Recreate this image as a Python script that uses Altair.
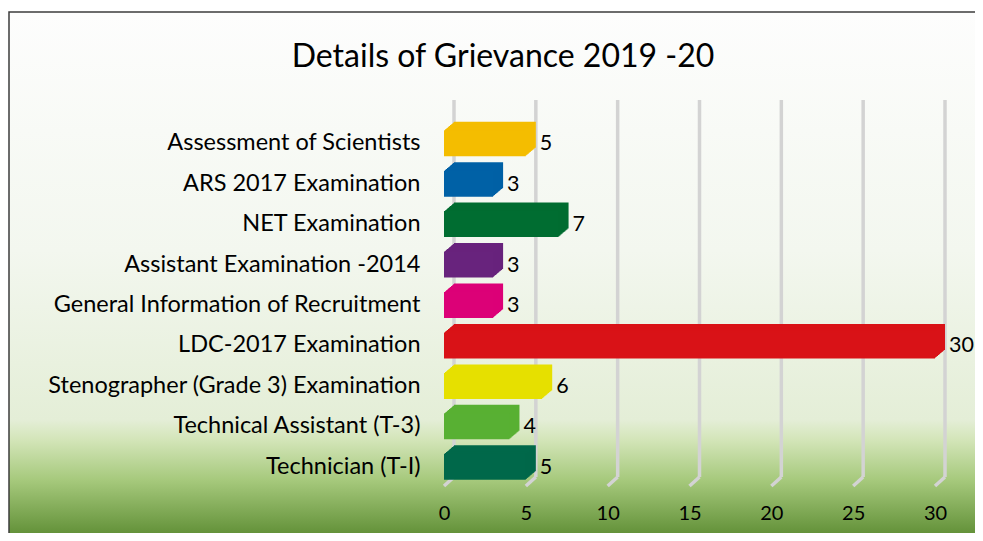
import altair as alt
import pandas as pd

categories = [
    "Assessment of Scientists",
    "ARS 2017 Examination",
    "NET Examination",
    "Assistant Examination -2014",
    "General Information of Recruitment",
    "LDC-2017 Examination",
    "Stenographer (Grade 3) Examination",
    "Technical Assistant (T-3)",
    "Technician (T-I)",
]
values = [5, 3, 7, 3, 3, 30, 6, 4, 5]
colors = ["#f4bd00", "#0061a6", "#006d31", "#68237d", "#dc0177",
          "#d91217", "#e6e000", "#58b033", "#00684a"]
ticks = [0, 5, 10, 15, 20, 25, 30]
title_text = "Details of Grievance 2019 -20"

df = pd.DataFrame({"cat": categories, "value": values, "color": colors})
tick_df = pd.DataFrame({"t": ticks})
one = pd.DataFrame({"a": [0]})

FONT = "Lato"
W, H = 491, 364
DX, DY = 10, 8.5
BAR = 26

x_scale = alt.Scale(domain=[0, 30], nice=False, zero=True)
y_scale = alt.Scale(domain=categories, paddingInner=0, paddingOuter=0)
x_axis = alt.Axis(title=None, values=ticks, labelFontSize=20, labelFont=FONT,
                  labelColor="black", ticks=False, domain=False, grid=False,
                  labelPadding=16, format="d", zindex=2, labelFlush=False)
y_axis = alt.Axis(title=None, labelFontSize=23.5, labelFont=FONT, labelColor="black",
                  labelPadding=24, ticks=False, domain=False, grid=False,
                  labelLimit=600, labelAlign="right", zindex=2)


def X(field):
    return alt.X(field, type="quantitative", scale=x_scale, axis=x_axis)


def Y(field):
    return alt.Y(field, type="nominal", scale=y_scale, axis=y_axis, sort=categories)


bg = alt.Chart(one).mark_rect(
    fill=alt.Gradient(
        gradient="linear", x1=0, x2=0, y1=0, y2=1,
        stops=[
            alt.GradientStop(offset=0.0, color="#fdfdfd"),
            alt.GradientStop(offset=0.45, color="#f3f7ef"),
            alt.GradientStop(offset=0.771, color="#e4eed7"),
            alt.GradientStop(offset=0.809, color="#d3e5b8"),
            alt.GradientStop(offset=0.885, color="#a6c97c"),
            alt.GradientStop(offset=1.0, color="#5a8a30"),
        ],
    ),
    stroke="#3c3c3c", strokeWidth=1.5,
).encode(
    x=alt.value(-435), x2=alt.value(600), y=alt.value(-111), y2=alt.value(418)
)

grid_v = alt.Chart(tick_df).mark_rule(
    color="#d3d3d3", strokeWidth=3.5, xOffset=DX
).encode(x=X("t"), y=alt.value(-23), y2=alt.value(354))

grid_d = alt.Chart(tick_df).mark_rule(
    color="#d3d3d3", strokeWidth=3.5, xOffset=DX, x2Offset=0
).encode(x=X("t"), x2=alt.X2("t"), y=alt.value(354), y2=alt.value(363))

N = 10
bar_layers = []
for i in range(N, -1, -1):
    f = i / N
    bar_layers.append(
        alt.Chart(df).mark_bar(
            size=BAR, xOffset=DX * f, x2Offset=DX * f,
            yOffset=-DY * f, y2Offset=-DY * f,
        ).encode(
            x=X("value"), y=Y("cat"),
            color=alt.Color("color:N", scale=None),
        )
    )

labels = alt.Chart(df).mark_text(
    align="left", baseline="middle", dx=14, dy=1, fontSize=21.5, font=FONT, color="black"
).encode(x=X("value"), y=Y("cat"), text=alt.Text("value:Q"))

title = alt.Chart(one).mark_text(
    align="center", baseline="middle", fontSize=32, font=FONT, color="black"
).encode(x=alt.value(59), y=alt.value(-66), text=alt.value(title_text))

chart = alt.layer(bg, grid_v, grid_d, *bar_layers, labels, title).properties(
    width=W, height=H,
    autosize="none",
    padding={"left": 436, "top": 115, "right": 40, "bottom": 46},
    background="white",
).configure_view(stroke=None)

chart.save("out.html", embed_options={"renderer": "svg", "actions": False})
